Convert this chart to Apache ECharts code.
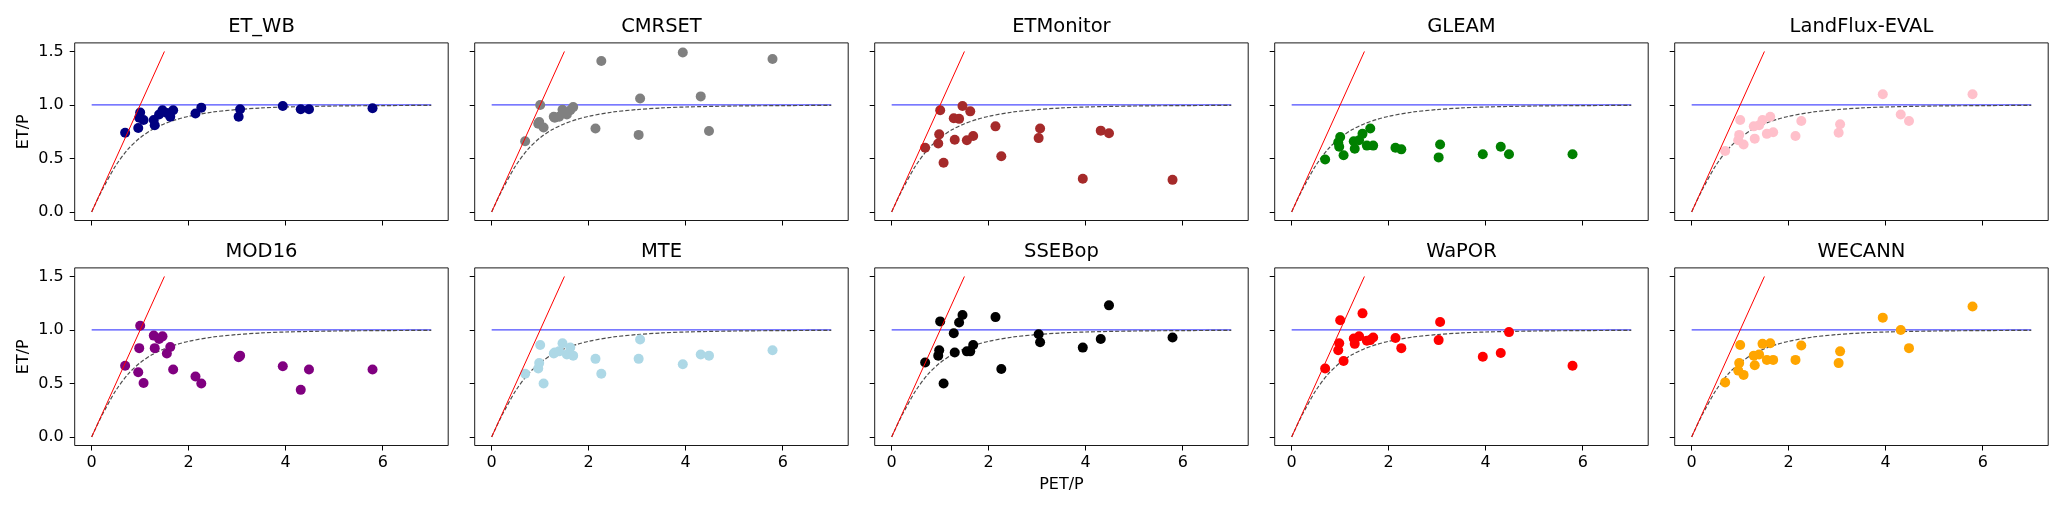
<!DOCTYPE html>
<html>
<head>
<meta charset="utf-8">
<script src="https://cdn.jsdelivr.net/npm/echarts@6/dist/echarts.min.js"></script>
<style>
html,body{margin:0;padding:0;background:#fff;}
#chart{width:2067px;height:511px;}
</style>
</head>
<body>
<div id="chart"></div>
<script>
// Shared PET/P values (x) for all products
const petP = [0.69,0.96,0.98,1.00,1.07,1.28,1.30,1.39,1.46,1.55,1.62,1.68,2.14,2.26,3.03,3.06,3.94,4.31,4.48,5.79];

// ET/P per product
const etWB      = [0.74,0.785,0.88,0.93,0.86,0.86,0.81,0.91,0.95,0.925,0.89,0.95,0.92,0.975,0.89,0.96,0.99,0.96,0.96,0.97];
const cmrset    = [0.66,0.825,0.84,1.00,0.79,0.89,0.88,0.89,0.955,0.91,0.95,0.98,0.78,1.41,0.72,1.06,1.49,1.08,0.757,1.43];
const etMonitor = [0.60,0.64,0.725,0.95,0.46,0.875,0.675,0.87,0.99,0.67,0.94,0.71,0.80,0.52,0.69,0.78,0.31,0.76,0.735,0.30];
const gleam     = [0.49,0.65,0.61,0.70,0.53,0.66,0.59,0.67,0.73,0.62,0.78,0.62,0.60,0.585,0.51,0.63,0.54,0.61,0.54,0.54];
const landflux  = [0.57,0.67,0.72,0.86,0.63,0.80,0.685,0.81,0.86,0.73,0.89,0.745,0.71,0.85,0.74,0.82,1.10,0.91,0.85,1.10];
const mod16     = [0.665,0.605,0.83,1.04,0.505,0.947,0.83,0.916,0.94,0.78,0.84,0.63,0.565,0.50,0.745,0.76,0.66,0.44,0.63,0.63];
const mte       = [0.59,0.64,0.69,0.86,0.50,0.78,0.79,0.80,0.875,0.77,0.835,0.76,0.73,0.59,0.73,0.91,0.68,0.77,0.76,0.81];
const ssebop    = [0.695,0.76,0.81,1.08,0.50,0.97,0.79,1.07,1.14,0.80,0.80,0.86,1.12,0.635,0.96,0.885,0.835,0.915,1.23,0.93];
const wapor     = [0.64,0.81,0.875,1.09,0.71,0.92,0.87,0.94,1.155,0.90,0.905,0.93,0.925,0.83,0.905,1.075,0.75,0.785,0.98,0.665];
const wecann    = [0.51,0.62,0.69,0.86,0.58,0.76,0.67,0.77,0.87,0.72,0.875,0.72,0.72,0.855,0.69,0.80,1.115,1.00,0.83,1.22];

const productNames = ['ET_WB','CMRSET','ETMonitor','GLEAM','LandFlux-EVAL','MOD16','MTE','SSEBop','WaPOR','WECANN'];
const productValues = [etWB,cmrset,etMonitor,gleam,landflux,mod16,mte,ssebop,wapor,wecann];
const productColors = ['#000080','#808080','#a52a2a','#008000','#ffc0cb','#800080','#add8e6','#000000','#ff0000','#ffa500'];

// Reference lines
const energyLimitX = [0, 1.5];      // ET/P = PET/P
const energyLimitY = [0, 1.5];
const waterLimitX = [0, 7];         // ET/P = 1
const waterLimitY = [1, 1];
// Budyko curve samples
const budykoX = [0,0.1,0.25,0.5,0.75,1,1.25,1.5,1.75,2,2.5,3,3.5,4,5,6,7];
const budykoY = [0,0.098,0.235,0.436,0.587,0.694,0.770,0.824,0.864,0.894,0.934,0.957,0.972,0.981,0.990,0.994,0.996];

const xTicks = [0,2,4,6];
const yTicks = [0,0.5,1.0,1.5];

const FONT = 'DejaVu Sans';
const pairs = (xs, ys) => xs.map((x,i)=>[x, ys[i]]);

const grids = [], xAxes = [], yAxes = [], series = [], titles = [];
for (let i = 0; i < 10; i++) {
  const r = Math.floor(i/5), c = i%5;
  const left = 74.7 + 400*c;
  const top = r === 0 ? 42.9 : 267.9;
  const w = 373.5, h = 177.6;
  grids.push({left:left, top:top, width:w, height:h, show:true, borderColor:'#1a1a1a', borderWidth:1, backgroundColor:'#fff'});
  titles.push({text:productNames[i], left:left + w/2, top: top - 26, textAlign:'center', padding:0,
    textStyle:{fontFamily:FONT, fontSize:19.5, fontWeight:'normal', color:'#000'}});
  xAxes.push({
    type:'value', gridIndex:i, min:-0.35, max:7.35, position:'bottom',
    axisLine:{show:false, onZero:false},
    axisTick:{show:true, length:5, inside:false, lineStyle:{color:'#000', width:1}, customValues:xTicks},
    axisLabel:{show: r===1, margin:9, fontFamily:FONT, fontSize:16, color:'#000', customValues:xTicks,
      formatter:(v)=>String(Math.round(v))},
    splitLine:{show:false},
    name: (i===7) ? 'PET/P' : '', nameLocation:'middle', nameGap:31,
    nameTextStyle:{fontFamily:FONT, fontSize:16, color:'#000'}
  });
  yAxes.push({
    type:'value', gridIndex:i, min:-0.08, max:1.58, position:'left',
    axisLine:{show:false, onZero:false},
    axisTick:{show:true, length:5, inside:false, lineStyle:{color:'#000', width:1}, customValues:yTicks},
    axisLabel:{show: c===0, margin:11, fontFamily:FONT, fontSize:16, color:'#000', customValues:yTicks,
      formatter:(v)=>v.toFixed(1)},
    splitLine:{show:false},
    name: c===0 ? 'ET/P' : '', nameLocation:'middle', nameGap:43, nameRotate:90,
    nameTextStyle:{fontFamily:FONT, fontSize:16, color:'#000'}
  });
  series.push({type:'line', xAxisIndex:i, yAxisIndex:i, data:pairs(waterLimitX, waterLimitY),
    symbol:'none', lineStyle:{color:'rgba(0,0,255,0.7)', width:1.3}, z:2, silent:true, animation:false});
  series.push({type:'line', xAxisIndex:i, yAxisIndex:i, data:pairs(budykoX, budykoY), smooth:0.3,
    symbol:'none', lineStyle:{color:'#4d4d4d', width:1.2, type:[4,2]}, z:3, silent:true, animation:false});
  series.push({type:'scatter', xAxisIndex:i, yAxisIndex:i, data:pairs(petP, productValues[i]),
    symbolSize:10, itemStyle:{color:productColors[i], opacity:1}, z:4, animation:false});
  series.push({type:'line', xAxisIndex:i, yAxisIndex:i, data:pairs(energyLimitX, energyLimitY),
    symbol:'none', lineStyle:{color:'#ff0000', width:1}, z:5, silent:true, animation:false});
}

const chart = echarts.init(document.getElementById('chart'), null, {renderer:'canvas'});
chart.setOption({
  backgroundColor:'#fff',
  animation:false,
  title:titles,
  grid:grids,
  xAxis:xAxes,
  yAxis:yAxes,
  series:series
});
</script>
</body>
</html>
